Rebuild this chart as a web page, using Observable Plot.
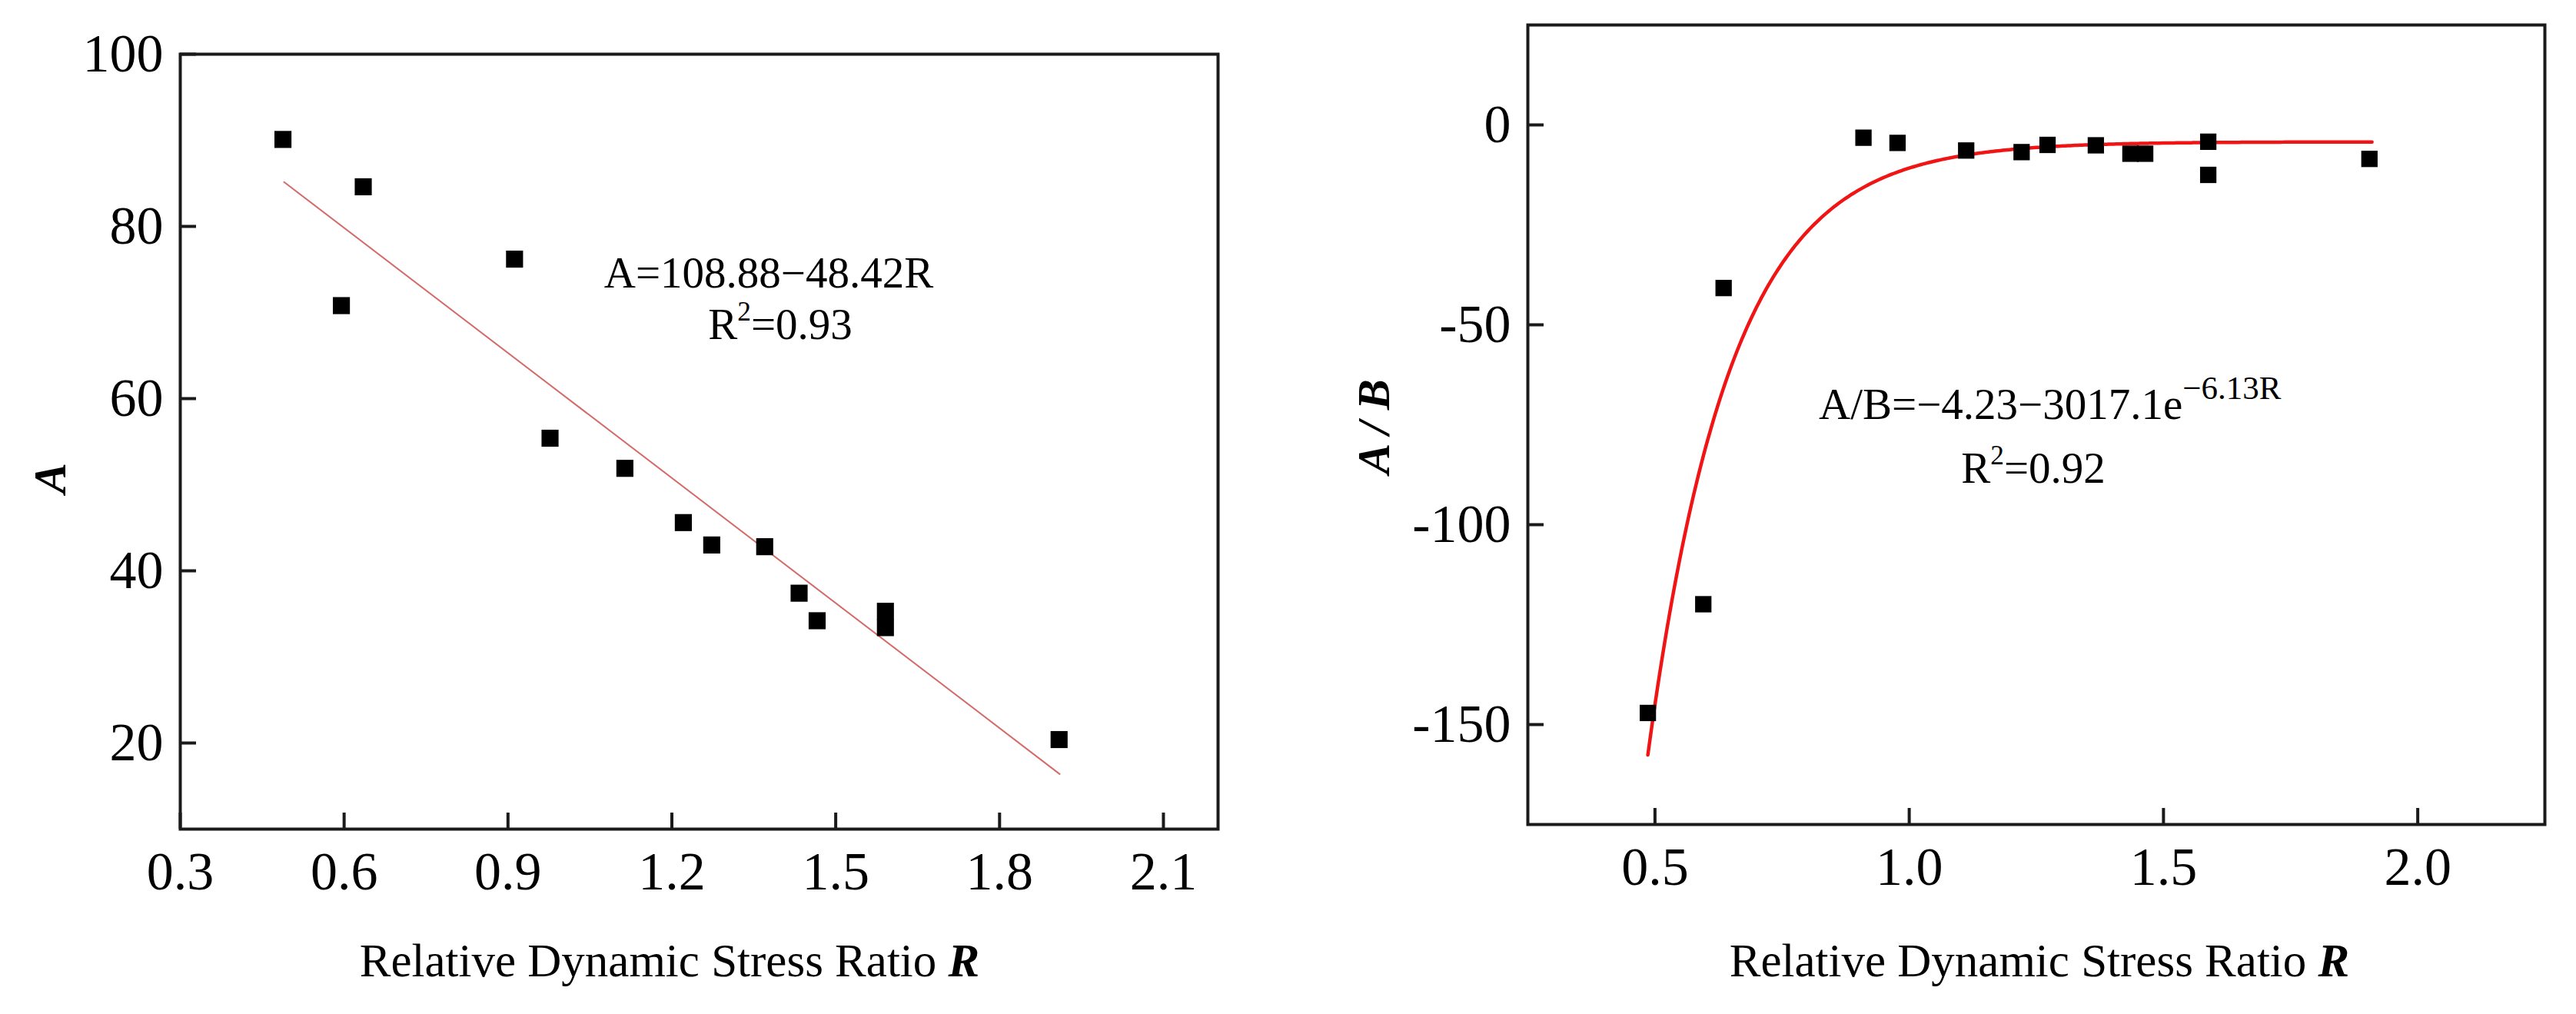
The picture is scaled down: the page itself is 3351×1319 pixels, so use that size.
<!DOCTYPE html>
<html><head><meta charset="utf-8">
<script src="https://cdn.jsdelivr.net/npm/d3@7"></script>
<script src="https://cdn.jsdelivr.net/npm/@observablehq/plot@0.6"></script>
<style>
html,body{margin:0;padding:0;background:#fff;}
#wrap{position:relative;width:3351px;height:1319px;overflow:hidden;background:#fff;}
#left{position:absolute;top:0;left:0;width:1680px;height:1319px;}
#right{position:absolute;top:0;left:1680px;width:1671px;height:1319px;}
</style></head><body>
<div id="wrap"><div id="left"></div><div id="right"></div></div>
<script>
// ---- data ----
const ratioA   = [0.488, 0.595, 0.635, 0.912, 0.977, 1.114, 1.221, 1.273, 1.370, 1.433, 1.466, 1.591, 1.591, 1.909];
const valuesA  = [90.1, 70.8, 84.6, 76.2, 55.4, 51.9, 45.6, 43.0, 42.8, 37.4, 34.2, 35.3, 33.4, 20.4];
const ratioAB  = [0.486, 0.595, 0.635, 0.910, 0.977, 1.112, 1.221, 1.272, 1.367, 1.435, 1.464, 1.588, 1.588, 1.905];
const valuesAB = [-147.1, -119.9, -40.8, -3.2, -4.5, -6.4, -6.8, -5.0, -5.1, -7.2, -7.2, -4.2, -12.5, -8.5];
const linFit   = [108.88, -48.42];          // A = a + b R
const expFit   = [-4.23, -3017.1, -6.13];   // A/B = a + b e^(c R)
const fitRangeA  = [0.49, 1.91];
const fitRangeAB = [0.486, 1.91];
const xTicksA  = [0.3, 0.6, 0.9, 1.2, 1.5, 1.8, 2.1];
const yTicksA  = [20, 40, 60, 80, 100];
const xTicksAB = [0.5, 1.0, 1.5, 2.0];
const yTicksAB = [0, -50, -100, -150];
const xTitle = "Relative Dynamic Stress Ratio ";
const xTitleVar = "R";

// ---- tables ----
const ptsA  = ratioA.map((r, i) => ({R: r, v: valuesA[i]}));
const ptsAB = ratioAB.map((r, i) => ({R: r, v: valuesAB[i]}));
const lineA = fitRangeA.map(r => ({R: r, v: linFit[0] + linFit[1] * r}));
const curveAB = d3.range(0, 301).map(i => {
  const r = fitRangeAB[0] + i * (fitRangeAB[1] - fitRangeAB[0]) / 300;
  return {R: r, v: expFit[0] + expFit[1] * Math.exp(expFit[2] * r)};
});

const FONT = '"Liberation Serif","Times New Roman",serif';
const style = `font-family:${FONT};font-size:70px;color:#000;background:#fff;overflow:visible;`;
const TICK = 21;

function axes(xt, yt, xfmt, yfmt) {
  return [
    Plot.axisX(xt, {anchor: "bottom", tickSize: -TICK, tickPadding: TICK + 29, strokeWidth: 4, stroke: "#1a1a1a", tickFormat: xfmt, label: null, fontSize: 70}),
    Plot.axisY(yt, {anchor: "left", tickSize: -TICK, tickPadding: TICK + 22, strokeWidth: 4, stroke: "#1a1a1a", tickFormat: yfmt, label: null, fontSize: 70})
  ];
}

const left = Plot.plot({
  width: 1680, height: 1319,
  marginLeft: 234, marginRight: 96, marginTop: 70, marginBottom: 241,
  style,
  x: {domain: [0.3, 2.2]},
  y: {domain: [10, 100]},
  marks: [
    Plot.line(lineA, {x: "R", y: "v", stroke: "#d46a6a", strokeWidth: 2}),
    Plot.dot(ptsA, {x: "R", y: "v", symbol: "square", r: 12.5, fill: "#000", stroke: "none"}),
    ...axes(xTicksA, yTicksA, d3.format(".1f"), d => String(d)),
    Plot.frame({stroke: "#1a1a1a", strokeWidth: 4})
  ]
});

const right = Plot.plot({
  width: 1671, height: 1319,
  marginLeft: 307, marginRight: 41, marginTop: 32, marginBottom: 247,
  style,
  x: {domain: [0.25, 2.25]},
  y: {domain: [-175, 25]},
  marks: [
    Plot.line(curveAB, {x: "R", y: "v", stroke: "#f01414", strokeWidth: 4.5}),
    Plot.dot(ptsAB, {x: "R", y: "v", symbol: "square", r: 12, fill: "#000", stroke: "none"}),
    ...axes(xTicksAB, yTicksAB, d3.format(".1f"), d => String(d)),
    Plot.frame({stroke: "#1a1a1a", strokeWidth: 4})
  ]
});

document.getElementById("left").appendChild(left);
document.getElementById("right").appendChild(right);

// ---- annotation helpers ----
function addText(svg, x, y, parts, {size = 57, anchor = "middle", rotate = false, dy = 0} = {}) {
  const t = d3.select(svg).append("text")
    .attr("font-family", FONT).attr("font-size", size).attr("fill", "#000")
    .attr("text-anchor", anchor).style("font-size", size + "px").style("font-family", FONT);
  if (rotate) t.attr("transform", `translate(${x},${y}) rotate(-90)`).attr("dy", dy);
  else t.attr("x", x).attr("y", y);
  let raised = 0;
  parts.forEach(([s, kind, supSize]) => {
    const sp = t.append("tspan").text(s);
    if (kind === "sup") {
      const ss = supSize || size * 0.62;
      const lift = supSize ? 26 : size * 0.42;
      sp.attr("font-size", ss).style("font-size", ss + "px").attr("dy", -lift);
      raised = lift;
    } else {
      if (raised) { sp.attr("dy", raised); raised = 0; }
      if (kind === "bi") sp.attr("font-weight", "bold").attr("font-style", "italic");
    }
  });
  return t;
}

// left panel text
addText(left, 1000, 374, [["A=108.88\u221248.42R"]], {size: 57});
addText(left, 1015, 441, [["R"], ["2", "sup"], ["=0.93"]], {size: 57});
addText(left, 65, 622, [["A", "bi"]], {size: 60, rotate: true, dy: "0.33em"});
addText(left, 871, 1270, [[xTitle], [xTitleVar, "bi"]], {size: 61});

// right panel text
addText(right, 686, 545, [["A/B=\u22124.23\u22123017.1e"], ["\u22126.13R", "sup", 43]], {size: 57, anchor: "start"});
addText(right, 965, 628, [["R"], ["2", "sup"], ["=0.92"]], {size: 57});
addText(right, 107, 555, [["A / B", "bi"]], {size: 60, rotate: true, dy: "0.33em"});
addText(right, 973, 1270, [[xTitle], [xTitleVar, "bi"]], {size: 61});
</script>
</body></html>
